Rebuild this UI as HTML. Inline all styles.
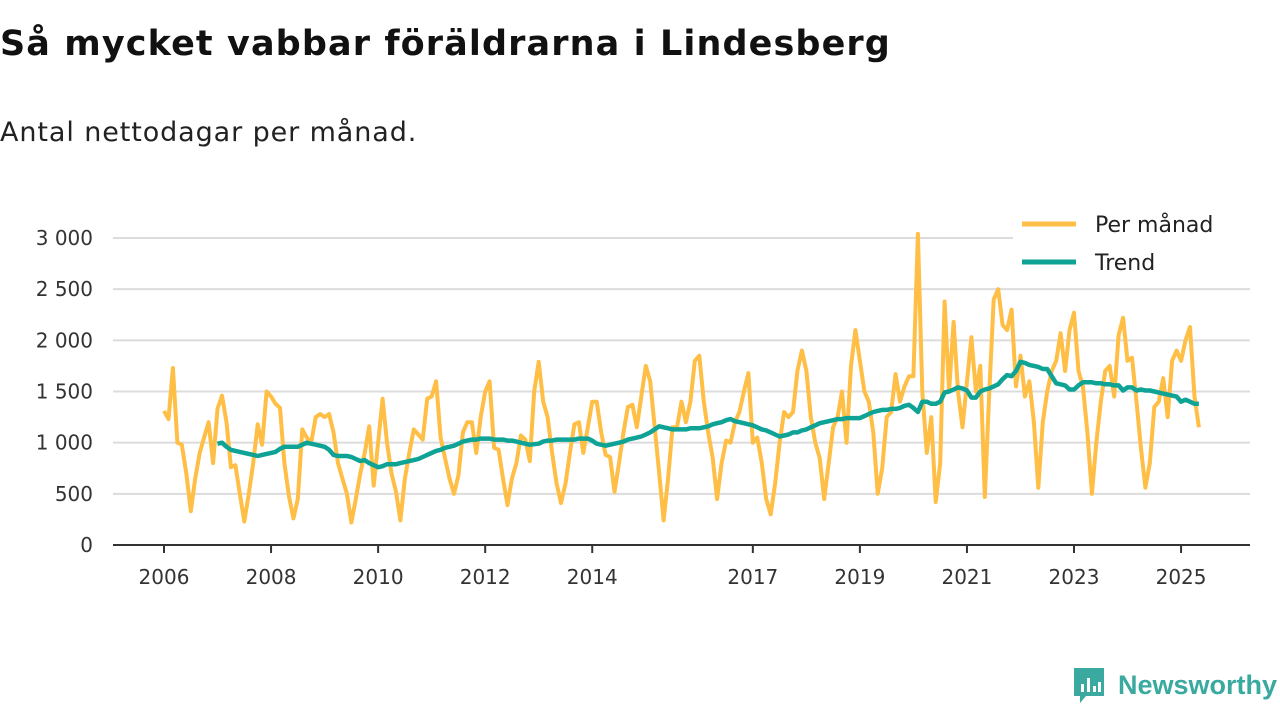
<!DOCTYPE html>
<html><head><meta charset="utf-8"><style>
body{margin:0;width:1280px;height:720px;background:#fff;font-family:"DejaVu Sans","Liberation Sans",sans-serif;overflow:hidden;position:relative}
#title{position:absolute;left:0;top:24px;font-size:35px;font-weight:bold;color:#111;margin:0;letter-spacing:1.1px}
#sub{position:absolute;left:0;top:117px;font-size:27px;color:#222;letter-spacing:0.9px}
#logo{position:absolute;left:1072px;top:666px;display:flex;align-items:center}
#logo span{font-family:"Liberation Sans",sans-serif;font-size:27px;font-weight:bold;color:#3aa99f;margin-left:12px}
</style></head><body>
<h1 id="title">Så mycket vabbar föräldrarna i Lindesberg</h1>
<div id="sub">Antal nettodagar per månad.</div>
<svg id="chart" width="1280" height="720" style="position:absolute;left:0;top:0"></svg>
<div id="logo">
<svg width="34" height="38"><path d="M2 2h30v28H14l-6 7v-7H2z" fill="#3aa99f"/><rect x="9" y="18" width="3" height="8" fill="#fff"/><rect x="15" y="12" width="3" height="14" fill="#fff"/><rect x="21" y="20" width="3" height="6" fill="#fff"/><rect x="26" y="16" width="3" height="10" fill="#fff"/></svg>
<span>Newsworthy</span></div>
<script>
const yTicks=[0,500,1000,1500,2000,2500,3000];
const yTickLabels=["0","500","1 000","1 500","2 000","2 500","3 000"];
const xTickYears=[2006,2008,2010,2012,2014,2017,2019,2021,2023,2025];
const monthly=[
1310,1230,1730,1000,980,700,330,650,900,1050,1200,800,
1330,1460,1200,760,780,500,230,500,800,1180,980,1500,
1450,1380,1340,800,480,260,450,1130,1050,1000,1250,1280,
1250,1280,1100,800,650,500,220,450,700,900,1160,580,
1000,1430,1000,700,520,240,650,900,1130,1080,1030,1430,
1450,1600,1050,850,650,500,680,1100,1200,1200,900,1250,
1500,1600,950,930,650,390,650,800,1070,1030,820,1500,
1790,1400,1250,900,600,410,600,900,1180,1200,900,1150,
1400,1400,1100,880,860,520,800,1100,1350,1370,1150,1450,
1750,1600,1150,700,240,650,1150,1150,1400,1200,1400,1800,
1850,1400,1100,850,450,800,1020,1000,1200,1300,1500,1680,
1000,1050,800,450,300,600,1000,1300,1250,1300,1700,1900,
1700,1250,1000,850,450,800,1150,1250,1500,1000,1750,2100,
1800,1500,1400,1100,500,750,1250,1300,1670,1400,1550,1650,
1650,3040,1500,900,1250,420,800,2380,1500,2180,1500,1150,
1600,2030,1500,1750,470,1500,2400,2500,2150,2100,2300,1550,
1850,1450,1600,1200,560,1200,1500,1700,1800,2070,1700,2100,
2270,1700,1550,1100,500,1000,1400,1700,1750,1450,2050,2220,
1800,1830,1400,950,560,800,1350,1400,1630,1250,1800,1900,
1800,2000,2130,1450,1150];
const trend=[
990,1000,960,930,920,910,900,890,880,870,880,890,
900,910,940,960,960,960,960,980,1000,990,980,970,
960,930,880,870,870,870,860,840,820,830,800,780,
760,770,790,790,790,800,810,820,830,840,860,880,
900,920,930,950,960,970,990,1010,1020,1030,1030,1040,
1040,1040,1030,1030,1030,1020,1020,1010,1000,990,980,985,
990,1010,1020,1020,1030,1030,1030,1030,1030,1040,1040,1040,
1020,990,980,970,980,990,1000,1010,1030,1040,1050,1060,
1080,1100,1130,1160,1150,1140,1130,1130,1130,1130,1140,1140,
1140,1150,1160,1180,1190,1200,1220,1230,1210,1200,1190,1180,
1170,1150,1130,1120,1100,1080,1060,1070,1080,1100,1100,1120,
1130,1150,1170,1190,1200,1210,1220,1230,1230,1240,1240,1240,
1240,1260,1280,1300,1310,1320,1320,1330,1330,1340,1360,1370,
1340,1300,1400,1400,1380,1380,1400,1490,1500,1520,1540,1530,
1510,1440,1440,1500,1520,1530,1550,1570,1620,1660,1650,1700,
1790,1780,1760,1750,1740,1720,1720,1650,1580,1570,1560,1520,
1520,1560,1590,1590,1590,1580,1580,1570,1570,1560,1560,1510,
1540,1540,1510,1520,1510,1510,1500,1490,1480,1470,1460,1450,
1400,1420,1400,1380,1380];
const startYear=2006, trendStart=2007;
const NS="http://www.w3.org/2000/svg";
const svg=document.getElementById('chart');
const X=t=>164+(t-2006)*53.53;
const Y=v=>545-v*0.10233;
function mk(tag,attrs,parent){const e=document.createElementNS(NS,tag);for(const k in attrs)e.setAttribute(k,attrs[k]);(parent||svg).appendChild(e);return e;}
yTicks.forEach((v,i)=>{
 if(v>0){const g=mk('line',{x1:113,x2:1250,y1:Y(v),y2:Y(v),stroke:'#dcdcdc','stroke-width':2});
 
 }
 const t=mk('text',{x:93,y:Y(v)+7,'text-anchor':'end','font-size':20,fill:'#333'});
 t.textContent=yTickLabels[i];
 
 
});
const ax=mk('line',{x1:113,x2:1250,y1:545,y2:545,stroke:'#333','stroke-width':2});


xTickYears.forEach(yr=>{
 const tk=mk('line',{x1:X(yr),x2:X(yr),y1:545,y2:553,stroke:'#333','stroke-width':2});
 
 
 const t=mk('text',{x:X(yr),y:584,'text-anchor':'middle','font-size':20,fill:'#333'});
 t.textContent=yr;
 
 
});
function path(arr,start){return arr.map((v,i)=>(i?'L':'M')+X(start+i/12).toFixed(1)+' '+Y(v).toFixed(1)).join(' ');}
const pm=mk('path',{d:path(monthly,startYear),fill:'none',stroke:'#ffbe45','stroke-width':4,'stroke-linejoin':'round'});


const tr=mk('path',{d:path(trend,trendStart),fill:'none',stroke:'#0fa396','stroke-width':4.5,'stroke-linejoin':'round'});


const lg=mk('rect',{x:1013,y:203,width:237,height:80,fill:'#fff'});


[['Per månad','#ffbe45',224],['Trend','#0fa396',262]].forEach(([lab,c,y])=>{
 const l=mk('line',{x1:1022,x2:1076,y1:y,y2:y,stroke:c,'stroke-width':5});
 
 
 const t=mk('text',{x:1095,y:y+8,'font-size':22,fill:'#222'});
 t.textContent=lab;
 
 
});
</script>
</body></html>
